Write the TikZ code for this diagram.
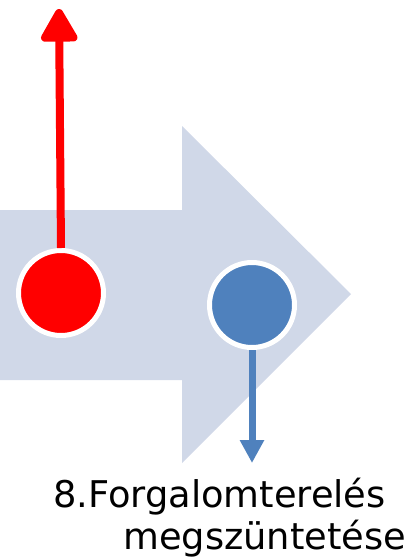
\documentclass[tikz,border=0pt]{standalone}
\usepackage{fontspec}
\setmainfont{DejaVu Sans}
\usetikzlibrary{arrows.meta}
\definecolor{bandfill}{HTML}{D0D8E8}
\definecolor{dotblue}{HTML}{4F81BD}
\definecolor{dotred}{HTML}{FF0000}
\tikzset{
  dot/.style={circle, minimum size=85pt, inner sep=0pt, line width=5pt, draw=white},
  label text/.style={font=\fontsize{36.8}{42}\selectfont, inner sep=0pt, anchor=base west, text=black},
}
\begin{document}
\begin{tikzpicture}[x=1pt,y=-1pt]
\useasboundingbox (0,0) rectangle (411,560);
% big process arrow
\fill[bandfill] (0,210) -- (182,210) -- (182,126) -- (351,294) -- (182,463) -- (182,380) -- (0,380) -- cycle;
% circles
\node[dot, fill=dotred] (redc) at (61,293) {};
\node[dot, fill=dotblue] (bluec) at (252,305) {};
% connector end points
\coordinate (redtip) at (59,9);
\coordinate (bluetip) at (252,463);
\draw[dotred, line width=8pt, -{Triangle[width=40pt,length=37pt,round]}] (redc.north) -- (redtip);
\draw[dotblue, line width=7pt, -{Triangle[width=23pt,length=23pt]}] (bluec.south) -- (bluetip);
% label
\node[label text] (l1) at (53,507) {8.Forgalomterelés};
\node[label text] (l2) at (123,549) {megszüntetése};
\end{tikzpicture}
\end{document}
